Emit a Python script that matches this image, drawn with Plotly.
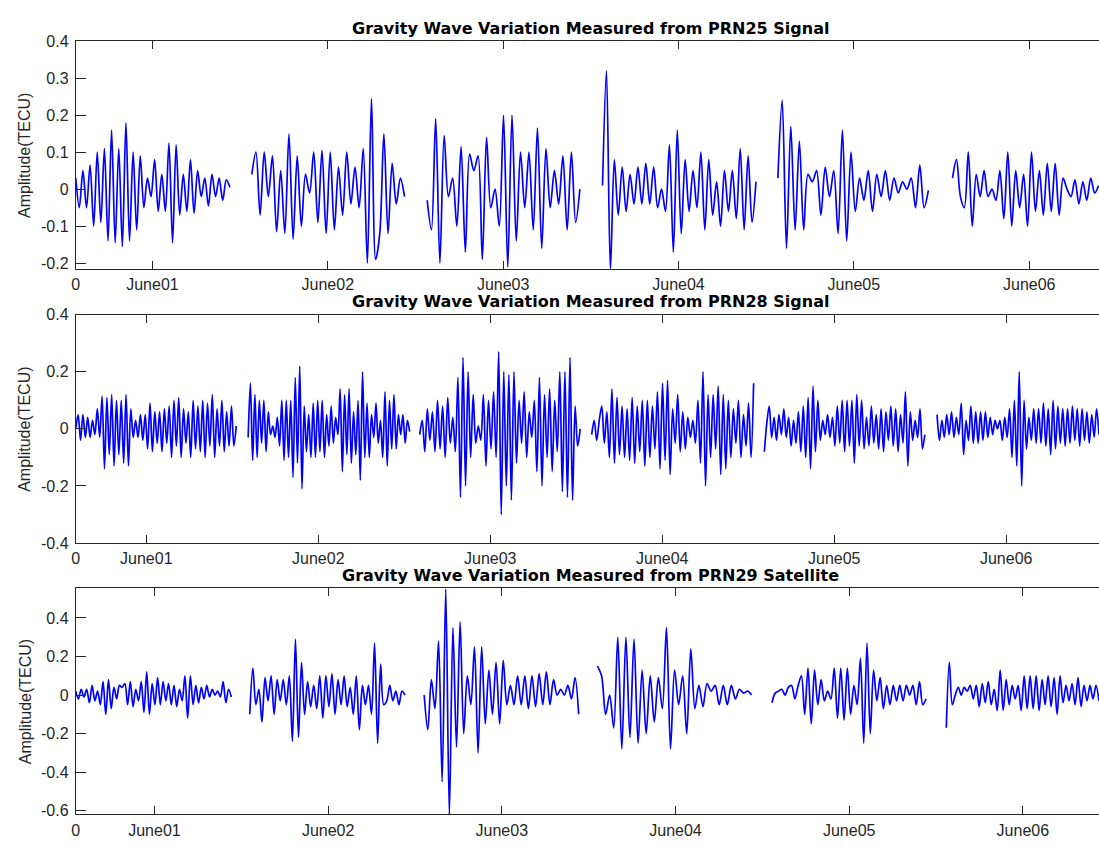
import numpy as np
import plotly.graph_objects as go

# ---------------------------------------------------------------------------
# Filtered TEC perturbations (TECU), one list of successive extrema per daily
# observation window.  Time axis is in hours from the start of the record.
# ---------------------------------------------------------------------------

day_labels = ["0", "June01", "June02", "June03", "June04", "June05", "June06"]

# ---- PRN25 ---------------------------------------------------------------
prn25_d1 = [0.03, -0.05, 0.05, -0.05, 0.065, -0.1, 0.1, -0.09, 0.11, -0.14, 0.16, -0.145,
            0.11, -0.155, 0.18, -0.14, 0.1, -0.11, 0.09, -0.05, 0.03, -0.02, 0.08, -0.06,
            0.04, -0.06, 0.125, -0.145, 0.12, -0.07, 0.04, -0.06, 0.08, -0.065, 0.05, -0.02,
            0.03, -0.045, 0.04, -0.02, 0.03, -0.03, 0.025, 0.005]
prn25_d2 = [0.04, 0.1, -0.07, 0.1, -0.02, 0.09, -0.115, 0.05, -0.12, 0.15, -0.135, 0.09,
            -0.1, 0.04, -0.01, 0.1, -0.09, 0.105, -0.12, 0.1, -0.11, 0.06, -0.07, 0.1,
            -0.04, 0.06, -0.05, 0.11, -0.2, 0.245, -0.19, -0.12, 0.15, -0.12, 0.07, -0.04,
            0.03, -0.02]
prn25_d3 = [-0.03, -0.11, 0.19, -0.2, 0.145, -0.02, 0.03, -0.1, 0.115, -0.17, 0.095, 0.05,
            0.09, -0.19, 0.14, -0.05, 0.0, -0.1, 0.2, -0.21, 0.2, -0.14, 0.1, -0.05, 0.1,
            -0.11, 0.165, -0.16, 0.11, -0.05, 0.05, -0.04, 0.09, -0.11, 0.1, -0.09, 0.0]
prn25_d4 = [0.01, 0.32, -0.22, 0.08, -0.07, 0.06, -0.06, 0.04, -0.04, 0.06, -0.04, 0.07,
            -0.04, 0.06, -0.05, 0.0, -0.06, 0.12, -0.17, 0.16, -0.12, 0.08, -0.06, 0.05,
            -0.05, 0.1, -0.11, 0.08, -0.07, 0.02, -0.1, 0.05, -0.06, 0.05, -0.08, 0.11,
            -0.11, 0.09, -0.09, 0.02]
prn25_d5 = [0.03, 0.24, -0.16, 0.17, -0.11, 0.13, -0.11, 0.04, 0.02, 0.05, -0.07, 0.06,
            -0.02, 0.05, -0.12, 0.16, -0.14, 0.1, -0.06, 0.03, -0.03, 0.05, -0.06, 0.04,
            -0.02, 0.05, -0.03, 0.03, -0.01, 0.02, 0.0, 0.03, -0.05, 0.065, -0.05, -0.003]
prn25_d6 = [0.03, 0.08, -0.02, -0.05, 0.1, -0.1, 0.04, -0.02, 0.05, -0.02, 0.0, -0.03,
            0.05, -0.08, 0.1, -0.1, 0.05, -0.05, 0.04, -0.1, 0.1, -0.06, 0.05, -0.07, 0.07,
            -0.06, 0.07, -0.07, 0.03, 0.0, -0.02, 0.025, -0.04, 0.02, -0.03, 0.03, -0.01, 0.01]
prn25_windows = [(0.0, 21.1), (24.1, 45.0), (48.1, 69.0), (72.1, 93.1), (96.1, 116.7), (120.0, 140.0)]
prn25_ticks = [0, 10.5, 34.5, 58.5, 82.5, 106.5, 130.5]

# ---- PRN28 ---------------------------------------------------------------
prn28_d1 = [0.0, 0.05, -0.04, 0.05, -0.03, 0.04, -0.03, 0.03, -0.02, 0.07, -0.03, 0.115,
            -0.14, 0.11, -0.09, 0.12, -0.13, 0.1, -0.09, 0.1, -0.12, 0.12, -0.13, 0.07,
            -0.03, 0.03, -0.03, 0.05, -0.04, 0.05, -0.07, 0.09, -0.08, 0.06, -0.05, 0.06,
            -0.08, 0.07, -0.05, 0.08, -0.1, 0.1, -0.06, 0.11, -0.1, 0.07, -0.05, 0.06, -0.1,
            0.1, -0.07, 0.08, -0.08, 0.1, -0.1, 0.09, -0.06, 0.12, -0.1, 0.07, -0.06, 0.1,
            -0.08, 0.06, -0.06, 0.08, -0.06, 0.01]
prn28_d2 = [-0.03, 0.16, -0.11, 0.12, -0.1, 0.1, -0.05, 0.1, -0.08, 0.06, -0.02, 0.01,
            -0.03, 0.04, -0.06, 0.1, -0.11, 0.1, -0.1, 0.1, -0.17, 0.18, -0.12, 0.22, -0.21,
            0.08, -0.08, 0.05, -0.1, 0.09, -0.1, 0.1, -0.08, 0.1, -0.1, 0.05, -0.06, 0.08,
            -0.05, 0.04, -0.02, 0.14, -0.15, 0.12, -0.09, 0.14, -0.12, 0.06, -0.09, 0.1,
            -0.18, 0.2, -0.1, 0.09, -0.1, 0.05, -0.03, 0.09, -0.05, 0.03, -0.1, 0.13, -0.13,
            0.1, -0.07, 0.12, -0.07, 0.05, -0.02, 0.05, -0.05, 0.03, -0.01]
prn28_d3 = [-0.02, 0.03, -0.08, 0.07, -0.04, 0.06, -0.08, 0.1, -0.07, 0.08, -0.1, 0.11,
            -0.05, 0.04, -0.08, 0.18, -0.24, 0.25, -0.2, 0.2, -0.1, 0.12, -0.05, 0.01,
            -0.04, 0.12, -0.13, 0.1, -0.07, 0.13, -0.1, 0.27, -0.3, 0.2, -0.2, 0.19, -0.25,
            0.2, -0.12, 0.1, -0.05, 0.13, -0.1, 0.06, -0.03, 0.1, -0.15, 0.18, -0.2, 0.12,
            -0.1, 0.14, -0.15, 0.1, -0.08, 0.2, -0.22, 0.2, -0.24, 0.25, -0.25, 0.08, -0.06, 0.0]
prn28_d4 = [-0.02, 0.03, -0.04, 0.03, 0.08, -0.05, 0.06, -0.1, 0.14, -0.12, 0.11, -0.09,
            0.08, -0.1, 0.07, -0.11, 0.11, -0.12, 0.08, -0.08, 0.1, -0.13, 0.1, -0.1, 0.08,
            -0.07, 0.13, -0.14, 0.16, -0.11, 0.17, -0.16, 0.07, -0.05, 0.12, -0.08, 0.06,
            -0.07, 0.04, -0.03, 0.03, -0.05, 0.1, -0.12, 0.2, -0.2, 0.12, -0.1, 0.12, -0.07,
            0.15, -0.16, 0.12, -0.14, 0.1, -0.1, 0.07, -0.05, 0.1, -0.1, 0.05, -0.06, 0.09,
            -0.1, 0.16]
prn28_d5 = [-0.08, 0.02, 0.08, -0.03, 0.04, -0.04, 0.05, -0.02, 0.07, -0.03, 0.04, -0.06,
            0.03, -0.05, 0.06, -0.08, 0.08, -0.1, 0.11, -0.14, 0.15, -0.08, 0.1, -0.04, 0.03,
            -0.02, 0.05, -0.03, 0.04, -0.06, 0.08, -0.05, 0.1, -0.08, 0.1, -0.06, 0.1, -0.12,
            0.12, -0.06, 0.1, -0.07, 0.04, -0.06, 0.08, -0.05, 0.05, -0.07, 0.07, -0.08, 0.06,
            -0.04, 0.08, -0.06, 0.07, -0.08, 0.05, -0.05, 0.13, -0.13, 0.06, -0.04, 0.03,
            -0.03, 0.07, -0.07, -0.02]
prn28_d6 = [0.05, -0.04, 0.03, -0.03, 0.05, -0.02, 0.06, -0.03, 0.04, -0.02, 0.09, -0.09,
            0.03, -0.04, 0.08, -0.05, 0.06, -0.05, 0.06, -0.04, 0.06, -0.03, 0.04, -0.02,
            0.03, 0.0, 0.03, -0.04, 0.04, -0.03, 0.07, -0.1, 0.1, -0.13, 0.2, -0.2, 0.1,
            -0.07, 0.04, -0.04, 0.07, -0.05, 0.07, -0.05, 0.09, -0.06, 0.07, -0.09, 0.1,
            -0.07, 0.08, -0.05, 0.07, -0.06, 0.07, -0.05, 0.08, -0.04, 0.07, -0.06, 0.07,
            -0.04, 0.06, -0.05, 0.05, -0.03, 0.07, -0.02]
prn28_windows = [(0.0, 22.4), (24.06, 46.6), (48.0, 70.4), (72.0, 94.6), (96.1, 118.5), (120.2, 142.8)]
prn28_ticks = [0, 9.85, 33.85, 57.85, 81.85, 105.85, 129.85]

# ---- PRN29 ---------------------------------------------------------------
prn29_d1 = [0.02, -0.02, 0.03, -0.01, 0.03, -0.04, 0.05, -0.03, 0.02, -0.05, 0.07, -0.1,
            0.08, -0.07, 0.04, -0.02, 0.05, 0.04, 0.06, -0.05, 0.07, -0.06, 0.03, -0.03,
            0.07, -0.09, 0.12, -0.1, 0.06, -0.05, 0.09, -0.05, 0.07, -0.03, 0.06, -0.05,
            0.05, -0.06, 0.03, -0.03, 0.1, -0.12, 0.1, -0.05, 0.05, -0.04, 0.04, -0.02, 0.05,
            -0.01, 0.03, 0.0, 0.02, -0.01, 0.07, -0.04, 0.03, -0.01]
prn29_d2 = [-0.1, 0.14, -0.05, 0.03, -0.14, 0.09, -0.03, 0.1, -0.1, 0.08, -0.03, 0.08,
            -0.05, 0.1, -0.24, 0.29, -0.22, 0.17, -0.1, 0.07, -0.06, 0.05, -0.07, 0.1, -0.12,
            0.1, -0.06, 0.11, -0.1, 0.08, -0.05, 0.1, -0.06, 0.04, -0.1, 0.1, -0.18, 0.05,
            -0.05, 0.05, -0.1, 0.27, -0.25, 0.16, -0.05, -0.03, 0.05, -0.03, 0.02, -0.05,
            0.02, 0.0]
prn29_d3 = [0.0, -0.18, 0.08, -0.07, 0.28, -0.45, 0.55, -0.62, 0.35, -0.27, 0.38, -0.2,
            0.1, -0.05, 0.25, -0.3, 0.25, -0.15, 0.13, -0.1, 0.17, -0.15, 0.18, -0.05, 0.05,
            -0.05, 0.1, -0.05, 0.1, -0.07, 0.1, -0.06, 0.11, -0.05, 0.12, -0.05, 0.08, 0.0,
            0.03, 0.0, 0.05, -0.02, 0.09, -0.1]
prn29_d4 = [0.15, 0.1, -0.1, 0.0, -0.17, 0.3, -0.28, 0.3, -0.22, 0.29, -0.25, 0.13, -0.2,
            0.1, -0.14, 0.09, -0.07, 0.35, -0.28, 0.13, -0.05, 0.1, -0.2, 0.24, -0.07, 0.05,
            -0.06, 0.06, 0.02, 0.05, -0.05, 0.05, -0.05, 0.05, -0.02, 0.03, 0.01, 0.02, 0.0]
prn29_d5 = [-0.04, 0.01, 0.02, 0.03, 0.0, 0.04, 0.05, -0.02, 0.05, 0.1, -0.1, 0.14, -0.15,
            0.13, -0.05, 0.08, -0.03, 0.02, -0.02, 0.14, -0.12, 0.14, -0.13, 0.14, -0.1, 0.05,
            -0.05, 0.19, -0.25, 0.27, -0.2, 0.13, -0.03, 0.09, -0.07, 0.05, -0.05, 0.05,
            -0.03, 0.05, -0.03, 0.05, 0.0, 0.05, -0.05, 0.07, -0.05, -0.02]
prn29_d6 = [-0.17, 0.17, -0.05, 0.0, 0.04, 0.0, 0.04, 0.02, 0.05, -0.02, 0.05, -0.06, 0.06,
            -0.04, 0.07, -0.05, 0.03, -0.08, 0.13, -0.08, 0.08, -0.05, 0.05, -0.02, 0.05,
            -0.08, 0.1, -0.07, 0.1, -0.07, 0.1, -0.08, 0.08, -0.05, 0.1, -0.06, 0.09, -0.1,
            0.1, -0.04, 0.05, -0.03, 0.06, -0.05, 0.09, -0.06, 0.05, -0.03, 0.05, -0.02,
            0.05, -0.03]
prn29_windows = [(0.0, 21.5), (24.05, 45.5), (48.15, 69.5), (72.1, 93.4), (96.2, 117.5), (120.3, 141.4)]
prn29_ticks = [0, 10.88, 34.88, 58.88, 82.88, 106.88, 130.88]

# ---- axis scales ---------------------------------------------------------
prn25_yticks = [-0.2, -0.1, 0, 0.1, 0.2, 0.3, 0.4]
prn28_yticks = [-0.4, -0.2, 0, 0.2, 0.4]
prn29_yticks = [-0.6, -0.4, -0.2, 0, 0.2, 0.4]

titles = ["Gravity Wave Variation Measured from PRN25 Signal",
          "Gravity Wave Variation Measured from PRN28 Signal",
          "Gravity Wave Variation Measured from PRN29 Satellite"]

W, H = 1099, 847
panels = [
    dict(days=[prn25_d1, prn25_d2, prn25_d3, prn25_d4, prn25_d5, prn25_d6],
         windows=prn25_windows, xticks=prn25_ticks, xmax=140.05,
         yticks=prn25_yticks, yrange=[-0.215, 0.4], top=34, bottom=266),
    dict(days=[prn28_d1, prn28_d2, prn28_d3, prn28_d4, prn28_d5, prn28_d6],
         windows=prn28_windows, xticks=prn28_ticks, xmax=142.8,
         yticks=prn28_yticks, yrange=[-0.4, 0.4], top=313, bottom=546),
    dict(days=[prn29_d1, prn29_d2, prn29_d3, prn29_d4, prn29_d5, prn29_d6],
         windows=prn29_windows, xticks=prn29_ticks, xmax=141.4,
         yticks=prn29_yticks, yrange=[-0.62, 0.555], top=592, bottom=823),
]

AX = "#262626"
tick_font = dict(family="Liberation Sans, Arial, sans-serif", size=16, color=AX)
x_left = 72

fig = go.Figure()
layout = dict(width=W, height=H, margin=dict(l=0, r=0, t=0, b=0),
              paper_bgcolor="white", plot_bgcolor="white", showlegend=False,
              annotations=[])

for i, p in enumerate(panels):
    sfx = "" if i == 0 else str(i + 1)
    rsfx = str(i + 4)   # right-hand tick axis of this panel
    for vals, (t0, t1) in zip(p["days"], p["windows"]):
        t = np.linspace(t0, t1, len(vals))
        fig.add_trace(go.Scatter(
            x=t, y=vals, mode="lines",
            line=dict(color="#0000ff", width=1.7, shape="spline", smoothing=0.9),
            xaxis="x" + sfx, yaxis="y" + sfx, hoverinfo="skip", cliponaxis=True))

    ydom = [1 - p["bottom"] / H, 1 - p["top"] / H]
    layout["xaxis" + sfx] = dict(
        domain=[x_left / W, 1.0], range=[0, p["xmax"]], anchor="y" + sfx,
        tickvals=p["xticks"], ticktext=day_labels, ticks="inside", ticklen=8,
        tickcolor=AX, showline=True, linecolor=AX, linewidth=1, mirror="ticks",
        showgrid=False, zeroline=False, tickfont=tick_font, ticklabelstandoff=1)
    layout["yaxis" + sfx] = dict(
        domain=ydom, range=p["yrange"], anchor="x" + sfx,
        tickvals=p["yticks"], ticktext=[("%g" % v) for v in p["yticks"]],
        ticks="inside", ticklen=10, tickcolor=AX, showline=True, linecolor=AX,
        linewidth=1, mirror=False, showgrid=False, zeroline=False,
        tickfont=tick_font, ticklabelstandoff=3)
    # box edge on the right falls just outside the canvas: only its ticks show
    layout["yaxis" + rsfx] = dict(
        overlaying="y" + sfx, side="right", anchor="x" + sfx, range=p["yrange"],
        tickvals=p["yticks"], ticks="inside", ticklen=5, tickcolor=AX,
        showticklabels=False, showline=False, showgrid=False, zeroline=False)

    layout["annotations"].append(dict(
        text="<b>%s</b>" % titles[i], xref="paper", yref="paper",
        x=589 / W, y=1 - (p["top"] - 1.5) / H, xanchor="center", yanchor="bottom",
        showarrow=False, font=dict(family="DejaVu Sans, sans-serif", size=16, color="#000000")))
    layout["annotations"].append(dict(
        text="Amplitude(TECU)", xref="paper", yref="paper", textangle=-90,
        x=21 / W, y=1 - (p["top"] + p["bottom"]) / 2 / H, xanchor="center", yanchor="middle",
        showarrow=False, font=dict(family="Liberation Sans, Arial, sans-serif", size=16, color=AX)))

fig.update_layout(**layout)
fig.write_html("out.html")
